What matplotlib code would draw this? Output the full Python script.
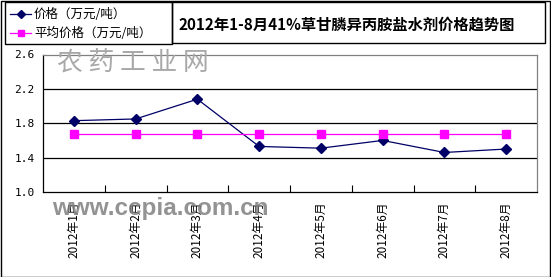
import matplotlib
matplotlib.use("Agg")
import matplotlib.pyplot as plt
from matplotlib.patches import Rectangle
from matplotlib.lines import Line2D

plt.rcParams['font.family'] = ['Noto Sans CJK SC', 'DejaVu Sans']

# 数据
months = ["2012年1月", "2012年2月", "2012年3月", "2012年4月",
          "2012年5月", "2012年6月", "2012年7月", "2012年8月"]
price = [1.83, 1.85, 2.08, 1.53, 1.51, 1.60, 1.46, 1.50]
avg_price = [1.68, 1.68, 1.68, 1.68, 1.68, 1.68, 1.68, 1.68]
yticks = [1.0, 1.4, 1.8, 2.2, 2.6]
title = "2012年1-8月41%草甘膦异丙胺盐水剂价格趋势图"
legend_labels = ["价格（万元/吨）", "平均价格（万元/吨）"]

W, H = 551, 277
fig = plt.figure(figsize=(W / 100, H / 100), dpi=100)
fig.patch.set_facecolor("white")

ax = fig.add_axes([43 / W, 1 - 192 / H, (537 - 43) / W, (192 - 54.5) / H])
x = list(range(len(months)))
ax.plot(x, price, color="#000066", lw=0.9, marker="D", ms=5,
        mfc="#000066", mec="#000066", zorder=3)
ax.plot(x, avg_price, color="#ff00ff", lw=0.9, marker="s", ms=5.5,
        mfc="#ff00ff", mec="#ff00ff", zorder=3)

ax.set_xlim(-0.5, len(months) - 0.5)
ax.set_ylim(1.0, 2.6)
ax.set_yticks(yticks)
ax.set_yticklabels([f"{v:.1f}" for v in yticks], family="DejaVu Sans Mono",
                   fontsize=8)
ax.tick_params(axis="y", length=0, pad=6)
for v in yticks[1:-1]:
    ax.axhline(v, color="black", lw=0.9, zorder=1)

# 类别边界刻度
ax.set_xticks([i + 0.5 for i in range(len(months) - 1)], minor=True)
ax.set_xticks([])
ax.tick_params(axis="x", which="minor", direction="in", length=5,
               width=0.8, color="black")
for i, m in enumerate(months):
    ax.text(i, -0.07, m, transform=ax.get_xaxis_transform(), rotation=90,
            ha="center", va="top", fontsize=8.5)

ax.spines["left"].set_color("black")
ax.spines["bottom"].set_color("black")
ax.spines["top"].set_color("#808080")
ax.spines["right"].set_color("#808080")
for s in ax.spines.values():
    s.set_linewidth(0.9)

# 水印
fig.text(57 / W, 1 - 64 / H, "农 药 工 业 网", fontsize=18.5, color="#a8a8a8",
         ha="left", va="center", family=["Noto Sans CJK SC"])
fig.text(52 / W, 1 - 209 / H, "www.ccpia.com.cn", fontsize=17.5,
         color="#808080", ha="left", va="center", weight="bold",
         family="Liberation Sans", alpha=0.85, zorder=5)

# 外框、图例框、标题框
fig.add_artist(Rectangle((0.5 / W, 0.5 / H), (W - 1.5) / W, (H - 1.5) / H,
                         transform=fig.transFigure, fill=False, lw=1,
                         ec="black"))
fig.add_artist(Rectangle((5 / W, 1 - 44 / H), 167 / W, 42 / H,
                         transform=fig.transFigure, fill=False, lw=1,
                         ec="black"))
fig.add_artist(Rectangle((172 / W, 1 - 43 / H), 373 / W, 41 / H,
                         transform=fig.transFigure, fill=False, lw=1,
                         ec="black"))

fig.text(347 / W, 1 - 25 / H, title, fontsize=11, weight="bold",
         ha="center", va="center")

# 图例
for k, (lab, c, mk, yy) in enumerate(zip(legend_labels,
                                         ["#000066", "#ff00ff"],
                                         ["D", "s"], [14, 33])):
    fig.add_artist(Line2D([10 / W, 31 / W], [1 - yy / H, 1 - yy / H],
                          transform=fig.transFigure, color=c, lw=0.9,
                          marker=None))
    fig.add_artist(Line2D([20.5 / W], [1 - yy / H], transform=fig.transFigure,
                          color=c, marker=mk, ms=4.5, mfc=c, mec=c))
    fig.text(34 / W, 1 - yy / H, lab, fontsize=9, ha="left", va="center")

fig.savefig("out.png", dpi=100)
